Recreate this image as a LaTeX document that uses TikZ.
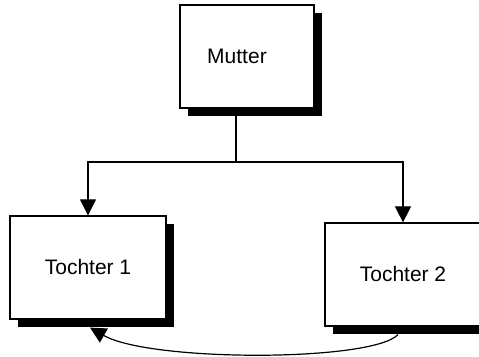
\documentclass[tikz,border=0pt]{standalone}
\usepackage{fontspec}
\setmainfont{Liberation Sans}
\usetikzlibrary{arrows.meta, shadows}

\begin{document}
\begin{tikzpicture}[x=0.5pt, y=-0.5pt, line width=0.6pt,
    box/.style={draw, fill=white, minimum width=78pt, minimum height=51.5pt, font=\fontsize{10.5pt}{12pt}\selectfont,
        drop shadow={shadow xshift=4pt, shadow yshift=-4pt, opacity=1, fill=black}},
    pfeil/.style={-{Triangle[width=8pt, length=8pt]}}]
    \useasboundingbox (0,0) rectangle (479,357);
    \node[box, minimum width=67pt] (mutter) at (247,56.5) {Mutter\hspace*{10pt}};
    \node[box] (tochter1) at (88,267.5) {Tochter 1};
    \node[box] (tochter2) at (403,274.5) {Tochter 2};

    \coordinate (split) at (236,162);
    \draw (mutter.south -| split) -- (split);
    \draw[pfeil] (split) -| (tochter1.north);
    \draw[pfeil] (split) -| (tochter2.north);
    \draw[pfeil] ([xshift=-2.5pt, yshift=-4pt]tochter2.south) .. controls (372,362) and (150,362) .. ([xshift=1pt, yshift=-4pt]tochter1.south);
\end{tikzpicture}
\end{document}
